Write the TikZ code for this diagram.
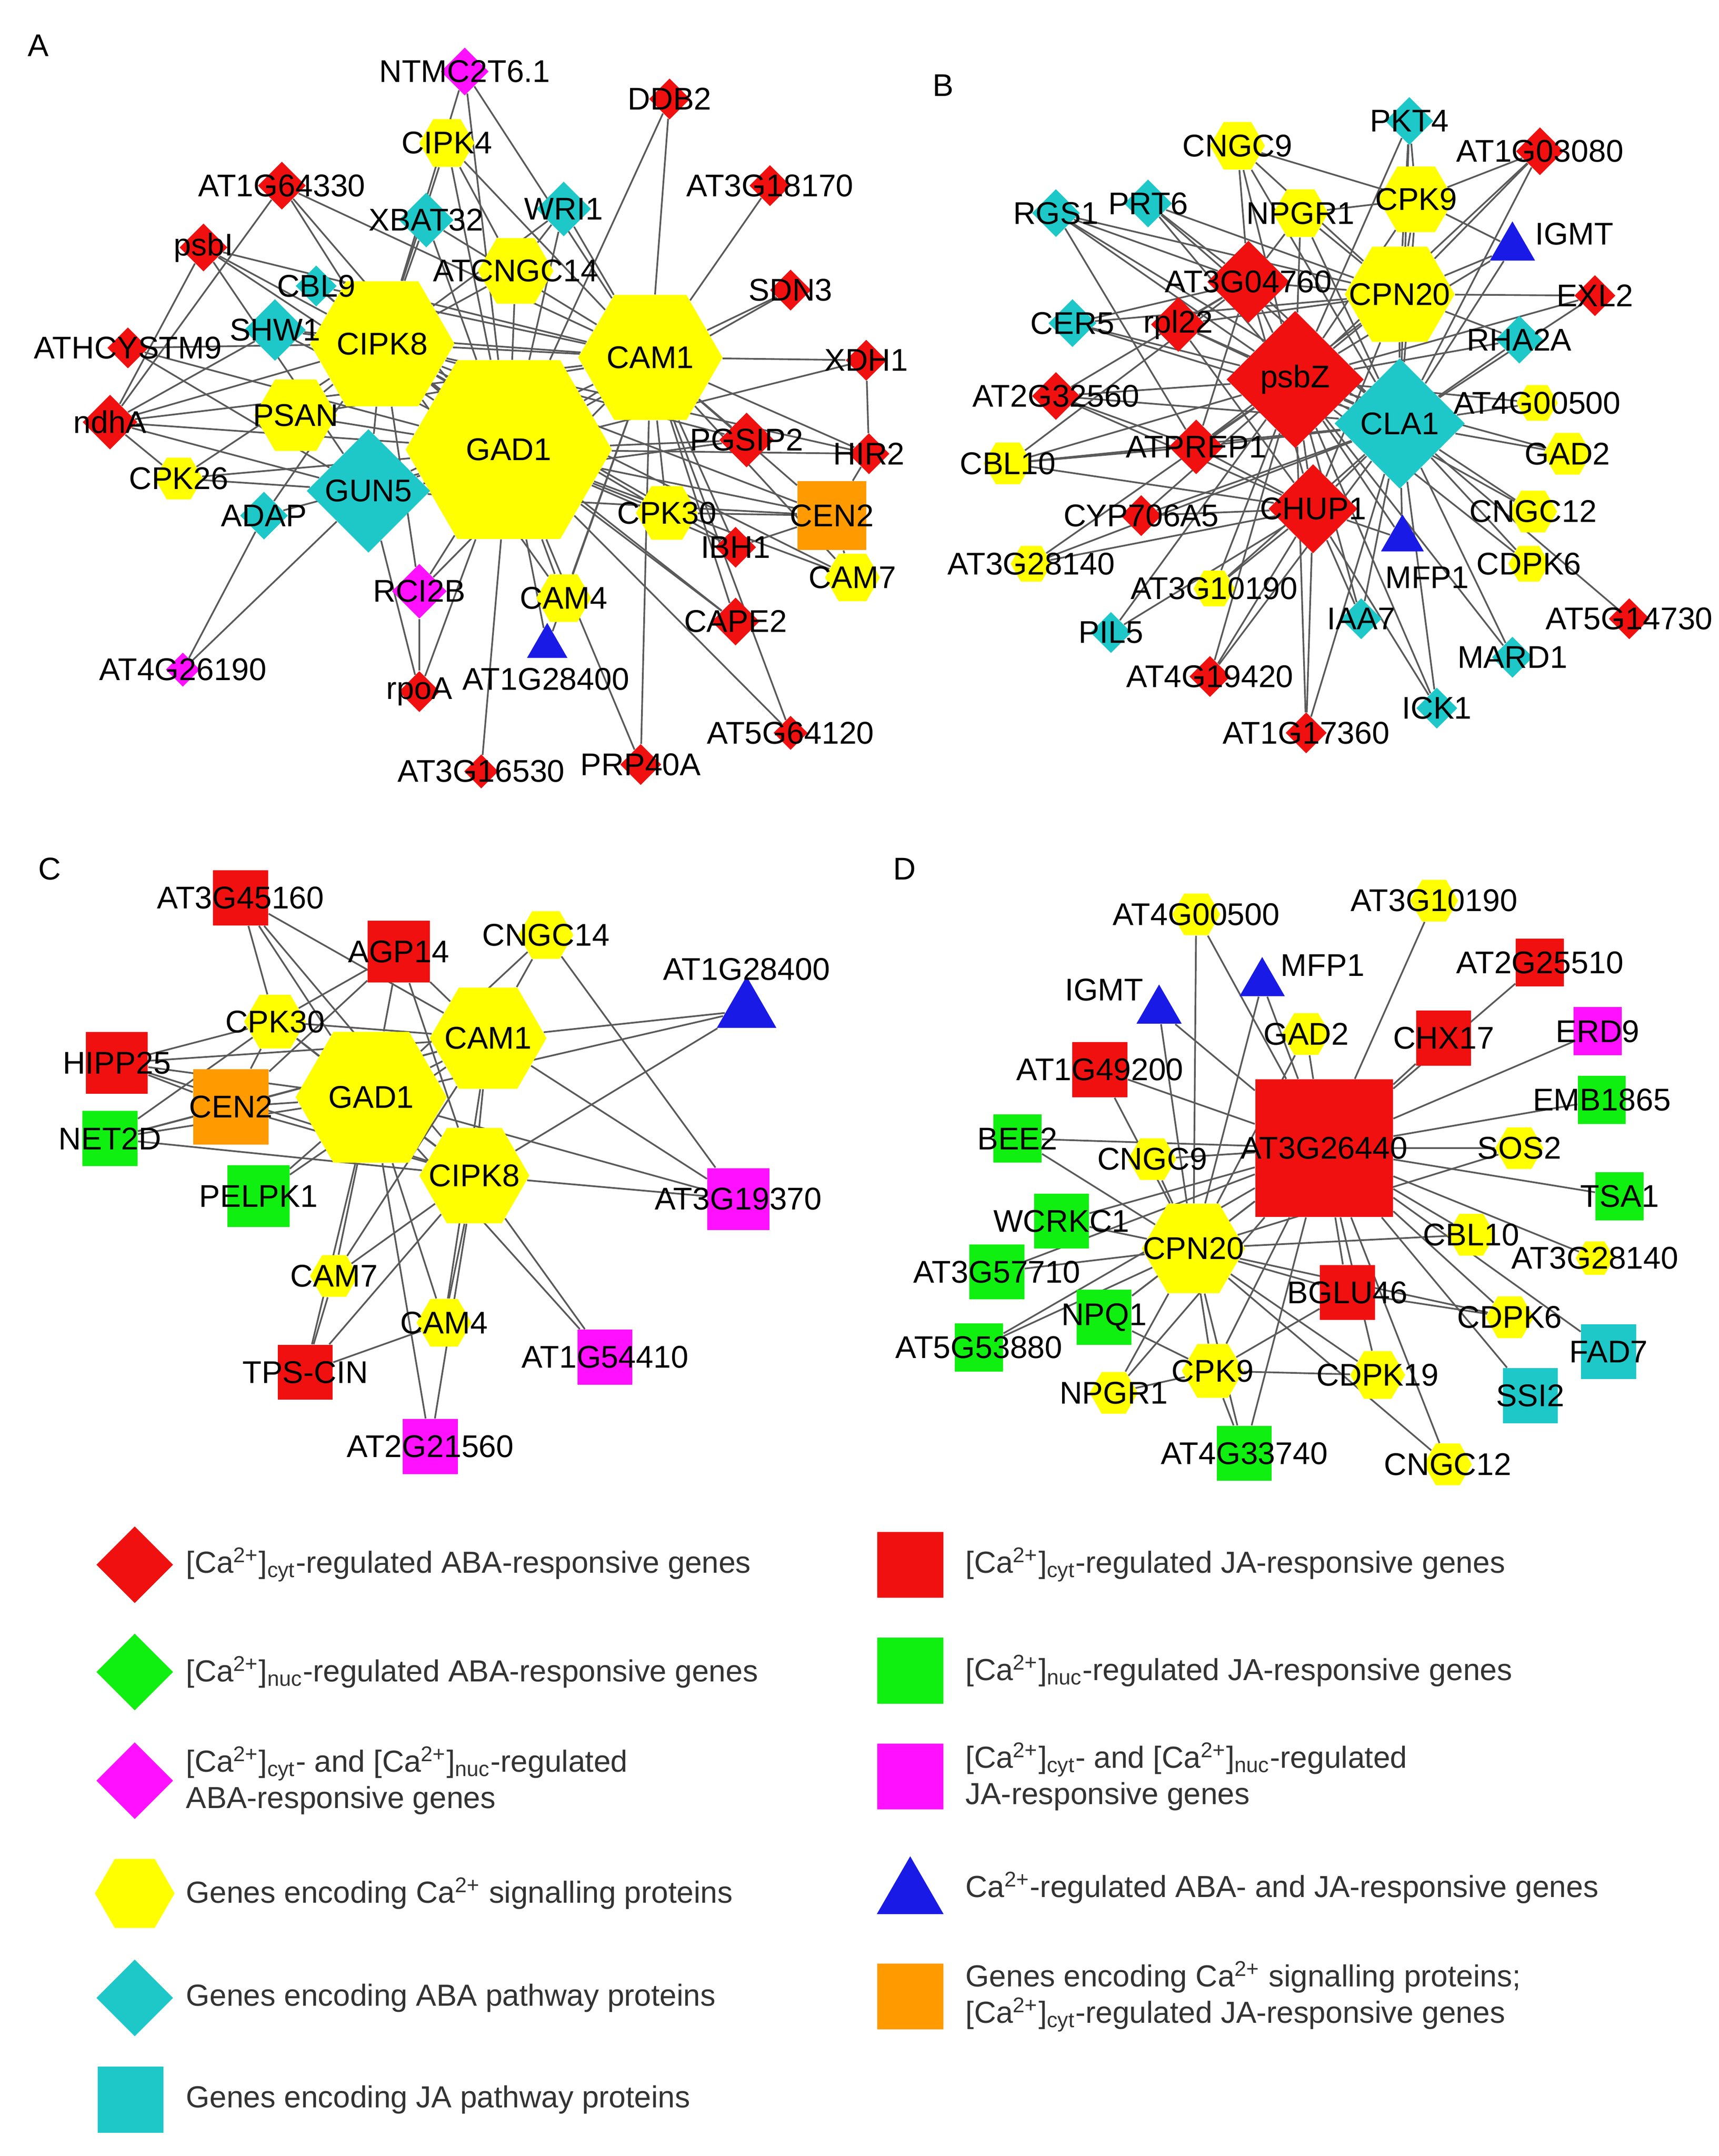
\documentclass[tikz,border=0pt]{standalone}
\usepackage{fontspec}
\setmainfont{Liberation Sans}
\usetikzlibrary{shapes.geometric}
\pgfdeclarelayer{bg}\pgfsetlayers{bg,main}
\definecolor{cR}{HTML}{F01010}\definecolor{cY}{HTML}{FFFF00}\definecolor{cC}{HTML}{1EC8C8}
\definecolor{cM}{HTML}{FF10FF}\definecolor{cB}{HTML}{1A1AE6}\definecolor{cG}{HTML}{10F010}
\definecolor{cO}{HTML}{FF9A00}\definecolor{cE}{HTML}{5A5A5A}\definecolor{cT}{HTML}{333333}
\newcommand\lf{\fontsize{13}{15}\selectfont}
\tikzset{
 every label/.style={font=\lf,text=black,inner sep=0pt},
 hx/.style={regular polygon,regular polygon sides=6,fill=cY,inner sep=0pt,minimum size=#1*0.02cm},
 dmR/.style={diamond,fill=cR,inner sep=0pt,minimum width=#1*0.02cm,minimum height=#1*0.02cm},
 dmC/.style={diamond,fill=cC,inner sep=0pt,minimum width=#1*0.02cm,minimum height=#1*0.02cm},
 dmM/.style={diamond,fill=cM,inner sep=0pt,minimum width=#1*0.02cm,minimum height=#1*0.02cm},
 dmG/.style={diamond,fill=cG,inner sep=0pt,minimum width=#1*0.02cm,minimum height=#1*0.02cm},
 sqR/.style={rectangle,fill=cR,inner sep=0pt,minimum size=#1*0.02cm},
 sqG/.style={rectangle,fill=cG,inner sep=0pt,minimum size=#1*0.02cm},
 sqM/.style={rectangle,fill=cM,inner sep=0pt,minimum size=#1*0.02cm},
 sqC/.style={rectangle,fill=cC,inner sep=0pt,minimum size=#1*0.02cm},
 sqO/.style={rectangle,fill=cO,inner sep=0pt,minimum size=#1*0.02cm},
 tri/.style={regular polygon,regular polygon sides=3,fill=cB,inner sep=0pt,minimum size=#1*0.02cm},
 lbl/.style={font=\lf,inner sep=0pt},
 edge/.style={draw=cE,line width=0.7pt},
 lg/.style={font=\fontsize{12.6}{15}\selectfont,text=cT,anchor=west,align=left,inner sep=0pt},
 pl/.style={font=\fontsize{13}{15}\selectfont,inner sep=0pt}
}
\newcommand\gn[6]{\node[#2=#3,label={center:#6}] (#1) at (#4,#5) {};}
\newcommand\ca{[Ca\textsuperscript{2+}]}
\begin{document}
\begin{tikzpicture}[x=0.02cm,y=-0.02cm]
\useasboundingbox (0,0) rectangle (1250,1568);
\node[pl] (pA) at (28,33) {A};\node[pl] (pB) at (686,62) {B};
\node[pl] (pC) at (36,632) {C};\node[pl] (pD) at (658,632) {D};
% ---- Panel A
\gn{aGAD1}{hx}{150}{370}{327}{GAD1}
\gn{aCIPK8}{hx}{105}{278}{250}{CIPK8}
\gn{aCAM1}{hx}{105}{473}{260}{CAM1}
\gn{aGUN5}{dmC}{90}{268}{357}{GUN5}
\gn{aSHW1}{dmC}{45}{200}{240}{SHW1}
\gn{aPSAN}{hx}{60}{215}{302}{PSAN}
\gn{aCNGC14}{hx}{55}{375}{197}{ATCNGC14}
\gn{aXBAT32}{dmC}{40}{310}{160}{XBAT32}
\gn{aWRI1}{dmC}{40}{410}{152}{WRI1}
\gn{aCIPK4}{hx}{40}{325}{104}{CIPK4}
\gn{aNTMC}{dmM}{35}{338}{52}{NTMC2T6.1}
\gn{aDDB2}{dmR}{30}{487}{72}{DDB2}
\gn{aAT3G18170}{dmR}{30}{560}{135}{AT3G18170}
\gn{aSDN3}{dmR}{30}{575}{211}{SDN3}
\gn{aXDH1}{dmR}{30}{630}{262}{XDH1}
\gn{aHIR2}{dmR}{30}{632}{330}{HIR2}
\gn{aPGSIP2}{dmR}{40}{543}{320}{PGSIP2}
\gn{aCEN2}{sqO}{50}{605}{375}{CEN2}
\gn{aCPK30}{hx}{45}{485}{373}{CPK30}
\gn{aIBH1}{dmR}{30}{535}{398}{IBH1}
\gn{aCAM7}{hx}{40}{620}{420}{CAM7}
\gn{aCAPE2}{dmR}{35}{535}{452}{CAPE2}
\gn{aCAM4}{hx}{40}{410}{435}{CAM4}
\node[tri=34] (aTRI) at (398,470) {};\node[lbl] (aTRIl) at (397,494) {AT1G28400};
\gn{aRCI2B}{dmM}{40}{305}{430}{RCI2B}
\gn{aRPOA}{dmR}{30}{305}{503}{rpoA}
\gn{aAT3G16530}{dmR}{25}{350}{561}{AT3G16530}
\gn{aPRP40A}{dmR}{30}{466}{556}{PRP40A}
\gn{aAT5G64120}{dmR}{25}{575}{533}{AT5G64120}
\gn{aAT4G26190}{dmM}{25}{133}{487}{AT4G26190}
\gn{aADAP}{dmC}{35}{192}{375}{ADAP}
\gn{aCPK26}{hx}{35}{130}{348}{CPK26}
\gn{andhA}{dmR}{40}{80}{307}{ndhA}
\gn{aATHC}{dmR}{30}{93}{253}{ATHCYSTM9}
\gn{apsbI}{dmR}{35}{148}{180}{psbI}
\gn{aCBL9}{dmC}{30}{230}{208}{CBL9}
\gn{aAT1G64330}{dmR}{35}{205}{135}{AT1G64330}
% ---- Panel B
\gn{bpsbZ}{dmR}{100}{942}{276}{psbZ}
\gn{bCLA1}{dmC}{95}{1018}{308}{CLA1}
\gn{bCPN20}{hx}{80}{1018}{214}{CPN20}
\gn{bAT3G04760}{dmR}{60}{908}{205}{AT3G04760}
\gn{bCHUP1}{dmR}{65}{955}{370}{CHUP1}
\gn{bATPREP1}{dmR}{40}{870}{325}{ATPREP1}
\gn{brpl22}{dmR}{40}{857}{236}{rpl22}
\gn{bCPK9}{hx}{55}{1030}{145}{CPK9}
\gn{bNPGR1}{hx}{40}{946}{155}{NPGR1}
\gn{bPKT4}{dmC}{35}{1025}{88}{PKT4}
\gn{bAT1G03080}{dmR}{35}{1120}{110}{AT1G03080}
\gn{bCNGC9}{hx}{40}{900}{106}{CNGC9}
\gn{bPRT6}{dmC}{35}{835}{148}{PRT6}
\gn{bRGS1}{dmC}{35}{768}{155}{RGS1}
\node[tri=38] (bIGMT) at (1100,180) {};\node[lbl] (bIGMTl) at (1145,170) {IGMT};
\gn{bEXL2}{dmR}{30}{1160}{215}{EXL2}
\gn{bRHA2A}{dmC}{35}{1105}{247}{RHA2A}
\gn{bAT4G00500}{hx}{30}{1118}{293}{AT4G00500}
\gn{bGAD2}{hx}{35}{1140}{330}{GAD2}
\gn{bCNGC12}{hx}{35}{1115}{372}{CNGC12}
\gn{bCDPK6}{hx}{30}{1112}{410}{CDPK6}
\gn{bAT5G14730}{dmR}{30}{1185}{450}{AT5G14730}
\gn{bMARD1}{dmC}{30}{1100}{478}{MARD1}
\gn{bICK1}{dmC}{30}{1045}{515}{ICK1}
\gn{bIAA7}{dmC}{30}{990}{450}{IAA7}
\node[tri=36] (bMFP1) at (1020,392) {};\node[lbl] (bMFP1l) at (1038,420) {MFP1};
\gn{bAT1G17360}{dmR}{30}{950}{533}{AT1G17360}
\gn{bAT4G19420}{dmR}{30}{880}{492}{AT4G19420}
\gn{bPIL5}{dmC}{30}{808}{460}{PIL5}
\gn{bAT3G10190}{hx}{30}{883}{428}{AT3G10190}
\gn{bAT3G28140}{hx}{30}{750}{410}{AT3G28140}
\gn{bCYP}{dmR}{30}{830}{375}{CYP706A5}
\gn{bCBL10}{hx}{35}{733}{337}{CBL10}
\gn{bAT2G32560}{dmR}{35}{768}{288}{AT2G32560}
\gn{bCER5}{dmC}{35}{780}{235}{CER5}
% ---- Panel C
\gn{cGAD1}{hx}{110}{270}{798}{GAD1}
\gn{cCAM1}{hx}{85}{355}{755}{CAM1}
\gn{cCIPK8}{hx}{80}{345}{855}{CIPK8}
\gn{cCPK30}{hx}{45}{200}{743}{CPK30}
\gn{cCEN2}{sqO}{55}{168}{805}{CEN2}
\gn{cAGP14}{sqR}{45}{290}{692}{AGP14}
\gn{cAT3G45160}{sqR}{40}{175}{653}{AT3G45160}
\gn{cCNGC14}{hx}{40}{397}{680}{CNGC14}
\node[tri=50] (cTRI) at (543,735) {};\node[lbl] (cTRIl) at (543,705) {AT1G28400};
\gn{cHIPP25}{sqR}{45}{85}{773}{HIPP25}
\gn{cNET2D}{sqG}{40}{80}{828}{NET2D}
\gn{cPELPK1}{sqG}{45}{188}{870}{PELPK1}
\gn{cAT3G19370}{sqM}{45}{537}{872}{AT3G19370}
\gn{cCAM7}{hx}{35}{243}{928}{CAM7}
\gn{cCAM4}{hx}{40}{323}{962}{CAM4}
\gn{cAT1G54410}{sqM}{40}{440}{987}{AT1G54410}
\gn{cTPS}{sqR}{40}{222}{998}{TPS-CIN}
\gn{cAT2G21560}{sqM}{40}{313}{1052}{AT2G21560}
% ---- Panel D
\gn{dAT3G26440}{sqR}{100}{963}{835}{AT3G26440}
\gn{dCPN20}{hx}{75}{868}{908}{CPN20}
\gn{dBGLU46}{sqR}{40}{980}{940}{BGLU46}
\gn{dCHX17}{sqR}{40}{1050}{755}{CHX17}
\gn{dAT2G25510}{sqR}{35}{1120}{700}{AT2G25510}
\gn{dERD9}{sqM}{35}{1162}{750}{ERD9}
\gn{dEMB1865}{sqG}{35}{1165}{800}{EMB1865}
\gn{dSOS2}{hx}{35}{1105}{835}{SOS2}
\gn{dTSA1}{sqG}{35}{1178}{870}{TSA1}
\gn{dCBL10}{hx}{35}{1070}{898}{CBL10}
\gn{dAT3G28140}{hx}{28}{1160}{915}{AT3G28140}
\gn{dCDPK6}{hx}{35}{1098}{958}{CDPK6}
\gn{dFAD7}{sqC}{40}{1170}{983}{FAD7}
\gn{dSSI2}{sqC}{40}{1113}{1015}{SSI2}
\gn{dCDPK19}{hx}{40}{1002}{1000}{CDPK19}
\gn{dCNGC12}{hx}{35}{1053}{1065}{CNGC12}
\gn{dCPK9}{hx}{45}{882}{997}{CPK9}
\gn{dAT4G33740}{sqG}{40}{905}{1057}{AT4G33740}
\gn{dNPGR1}{hx}{35}{810}{1013}{NPGR1}
\gn{dAT5G53880}{sqG}{35}{712}{980}{AT5G53880}
\gn{dNPQ1}{sqG}{40}{803}{958}{NPQ1}
\gn{dAT3G57710}{sqG}{40}{725}{925}{AT3G57710}
\gn{dWCRKC1}{sqG}{40}{772}{888}{WCRKC1}
\gn{dBEE2}{sqG}{35}{740}{828}{BEE2}
\gn{dCNGC9}{hx}{35}{838}{843}{CNGC9}
\gn{dAT1G49200}{sqR}{40}{800}{778}{AT1G49200}
\node[tri=38] (dIGMT) at (843,735) {};\node[lbl] (dIGMTl) at (803,720) {IGMT};
\node[tri=38] (dMFP1) at (918,715) {};\node[lbl] (dMFP1l) at (962,702) {MFP1};
\gn{dGAD2}{hx}{35}{950}{752}{GAD2}
\gn{dAT4G00500}{hx}{35}{870}{665}{AT4G00500}
\gn{dAT3G10190}{hx}{35}{1043}{655}{AT3G10190}
% ---- edges
\begin{pgfonlayer}{bg}
\foreach \t in {CIPK8,CAM1,GUN5,SHW1,PSAN,CNGC14,XBAT32,WRI1,CIPK4,NTMC,DDB2,SDN3,XDH1,HIR2,PGSIP2,CEN2,CPK30,IBH1,CAM7,CAPE2,CAM4,TRI,RCI2B,RPOA,AT3G16530,PRP40A,AT5G64120,ADAP,CPK26,ndhA,psbI,CBL9,AT1G64330,ATHC}
 \draw[edge] (aGAD1) -- (a\t);
\foreach \t in {ndhA,psbI,ATHC,AT1G64330,CBL9,SHW1,XBAT32,CIPK4,NTMC,CNGC14,WRI1,CAM1,CEN2,HIR2,PGSIP2,CPK30,CAM4,RCI2B,ADAP,CPK26,GUN5,PSAN,IBH1,CAPE2,CAM7}
 \draw[edge] (aCIPK8) -- (a\t);
\foreach \t in {NTMC,CIPK4,XBAT32,WRI1,DDB2,AT3G18170,SDN3,XDH1,HIR2,PGSIP2,CEN2,CPK30,IBH1,CAM7,CAPE2,CAM4,TRI,RCI2B,GUN5,PSAN,SHW1,CBL9,AT1G64330,psbI,ndhA,AT5G64120,PRP40A}
 \draw[edge] (aCAM1) -- (a\t);
\foreach \t in {ndhA,CPK26,AT4G26190,RPOA,ATHC,psbI,CEN2,PGSIP2}
 \draw[edge] (aGUN5) -- (a\t);
\foreach \s/\t in {ndhA/CPK26,ndhA/SHW1,ndhA/psbI,ndhA/AT1G64330,XDH1/HIR2,CEN2/CAM7,CEN2/IBH1,CEN2/CPK30,CEN2/HIR2,CNGC14/CIPK4,CNGC14/WRI1,RPOA/RCI2B,AT4G26190/ADAP}
 \draw[edge] (a\s) -- (a\t);
\foreach \t in {CLA1,CPN20,AT3G04760,CHUP1,ATPREP1,rpl22,CPK9,NPGR1,PKT4,CNGC9,PRT6,RGS1,CER5,AT2G32560,CBL10,CYP,AT3G28140,AT3G10190,PIL5,AT4G19420,AT1G17360,IAA7,ICK1,MFP1,MARD1,CDPK6,CNGC12,GAD2,AT4G00500,RHA2A,EXL2,IGMT,AT1G03080}
 \draw[edge] (bpsbZ) -- (b\t);
\foreach \t in {CPN20,AT3G04760,CHUP1,ATPREP1,rpl22,CPK9,NPGR1,PKT4,CNGC9,PRT6,RGS1,CER5,AT2G32560,CBL10,CYP,AT3G28140,AT3G10190,AT4G19420,AT1G17360,IAA7,ICK1,MFP1,MARD1,CDPK6,CNGC12,GAD2,AT4G00500,RHA2A,EXL2,IGMT,AT1G03080,AT5G14730}
 \draw[edge] (bCLA1) -- (b\t);
\foreach \t in {AT3G04760,CHUP1,rpl22,CPK9,NPGR1,PKT4,CNGC9,PRT6,RGS1,IGMT,EXL2,RHA2A,AT1G03080,ATPREP1,CER5}
 \draw[edge] (bCPN20) -- (b\t);
\foreach \t in {AT3G04760,ATPREP1,rpl22,AT2G32560,CBL10,CYP,AT3G28140,AT3G10190,PIL5,AT4G19420,AT1G17360,IAA7,ICK1,MFP1}
 \draw[edge] (bCHUP1) -- (b\t);
\foreach \t in {RGS1,PRT6,CNGC9,NPGR1,CER5,rpl22,ATPREP1,AT2G32560,CBL10}
 \draw[edge] (bAT3G04760) -- (b\t);
\foreach \s/\t in {CPK9/PKT4,CPK9/AT1G03080,CPK9/IGMT,CPK9/CNGC9,CPK9/NPGR1,ATPREP1/CBL10,ATPREP1/AT2G32560,ATPREP1/RGS1}
 \draw[edge] (b\s) -- (b\t);
\foreach \t in {CAM1,CIPK8,CPK30,CEN2,AGP14,AT3G45160,CNGC14,HIPP25,NET2D,PELPK1,CAM7,CAM4,TPS,AT2G21560,AT1G54410,AT3G19370,TRI}
 \draw[edge] (cGAD1) -- (c\t);
\foreach \t in {CIPK8,CPK30,CEN2,AGP14,CNGC14,TRI,AT3G19370,HIPP25,NET2D,CAM4,CAM7,AT3G45160,PELPK1}
 \draw[edge] (cCAM1) -- (c\t);
\foreach \t in {CPK30,CEN2,AGP14,TRI,AT3G19370,AT1G54410,CAM4,CAM7,TPS,AT2G21560,HIPP25,NET2D,AT3G45160}
 \draw[edge] (cCIPK8) -- (c\t);
\foreach \s/\t in {CEN2/HIPP25,CEN2/NET2D,CEN2/CPK30,CEN2/AGP14,CPK30/HIPP25,CPK30/NET2D,CPK30/AT3G45160,CPK30/AGP14,CNGC14/AT3G19370,TPS/CAM7,TPS/CAM4}
 \draw[edge] (c\s) -- (c\t);
\foreach \t in {CPN20,BGLU46,CHX17,AT2G25510,ERD9,EMB1865,SOS2,TSA1,CBL10,AT3G28140,CDPK6,FAD7,SSI2,CDPK19,CNGC12,CPK9,AT4G33740,NPGR1,AT5G53880,NPQ1,AT3G57710,WCRKC1,BEE2,CNGC9,AT1G49200,IGMT,MFP1,GAD2,AT4G00500,AT3G10190}
 \draw[edge] (dAT3G26440) -- (d\t);
\foreach \t in {CPK9,CDPK19,NPGR1,NPQ1,AT5G53880,AT3G57710,WCRKC1,BEE2,CNGC9,AT1G49200,IGMT,MFP1,GAD2,AT4G00500,BGLU46,CBL10,CDPK6,AT4G33740,CNGC12,SOS2}
 \draw[edge] (dCPN20) -- (d\t);
\foreach \s/\t in {CPK9/CDPK19,CPK9/NPGR1,CPK9/NPQ1,CPK9/AT4G33740,BGLU46/CDPK6,BGLU46/CPK9}
 \draw[edge] (d\s) -- (d\t);
\end{pgfonlayer}
% ---- legend
\node[dmR=56] (L1) at (98,1138) {};\node[lg] (L1t) at (135,1138) {\ca\textsubscript{cyt}-regulated ABA-responsive genes};
\node[dmG=56] (L2) at (98,1216) {};\node[lg] (L2t) at (135,1216) {\ca\textsubscript{nuc}-regulated ABA-responsive genes};
\node[dmM=56] (L3) at (98,1295) {};\node[lg] (L3t) at (135,1295) {\ca\textsubscript{cyt}- and \ca\textsubscript{nuc}-regulated\\ABA-responsive genes};
\node[hx=58] (L4) at (98,1377) {};\node[lg] (L4t) at (135,1377) {Genes encoding Ca\textsuperscript{2+} signalling proteins};
\node[dmC=56] (L5) at (98,1453) {};\node[lg] (L5t) at (135,1453) {Genes encoding ABA pathway proteins};
\node[sqC=48] (L6) at (95,1527) {};\node[lg] (L6t) at (135,1527) {Genes encoding JA pathway proteins};
\node[sqR=48] (R1) at (662,1138) {};\node[lg] (R1t) at (702,1138) {\ca\textsubscript{cyt}-regulated JA-responsive genes};
\node[sqG=48] (R2) at (662,1215) {};\node[lg] (R2t) at (702,1215) {\ca\textsubscript{nuc}-regulated JA-responsive genes};
\node[sqM=48] (R3) at (662,1292) {};\node[lg] (R3t) at (702,1292) {\ca\textsubscript{cyt}- and \ca\textsubscript{nuc}-regulated\\JA-responsive genes};
\node[tri=56] (R4) at (662,1378) {};\node[lg] (R4t) at (702,1373) {Ca\textsuperscript{2+}-regulated ABA- and JA-responsive genes};
\node[sqO=48] (R5) at (662,1452) {};\node[lg] (R5t) at (702,1452) {Genes encoding Ca\textsuperscript{2+} signalling proteins;\\\ca\textsubscript{cyt}-regulated JA-responsive genes};
\end{tikzpicture}
\end{document}
